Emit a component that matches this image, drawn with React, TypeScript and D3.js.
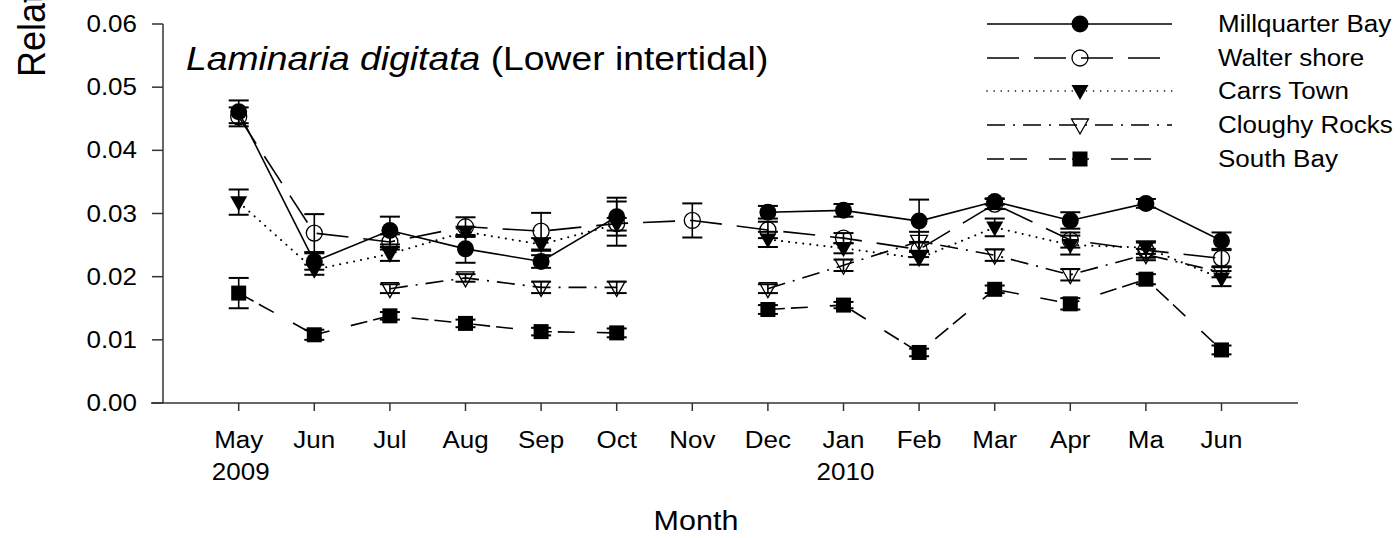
import React from "react";
import * as d3 from "d3";

const months = ["May", "Jun", "Jul", "Aug", "Sep", "Oct", "Nov", "Dec", "Jan", "Feb", "Mar", "Apr", "Ma", "Jun"];
const years = ["2009", "", "", "", "", "", "", "", "2010", "", "", "", "", ""];
const yTicks = [0, 0.01, 0.02, 0.03, 0.04, 0.05, 0.06];

const millquarter = [0.0461, 0.0224, 0.0273, 0.0244, 0.0224, 0.0295, null, 0.0302, 0.0305, 0.0288, 0.0319, 0.0289, 0.0316, 0.0257];
const millquarterErr = [0.0018, 0.0013, 0.0022, 0.0022, 0.001, 0.003, null, 0.001, 0.001, 0.0034, 0.0005, 0.0013, 0.0007, 0.0013];
const walter = [0.0453, 0.0269, 0.0255, 0.0279, 0.0272, 0.0284, 0.0289, 0.0274, 0.0261, 0.0243, 0.0315, 0.0258, 0.0242, 0.0229];
const walterErr = [0.0015, 0.003, 0.0012, 0.0015, 0.0029, 0.0035, 0.0027, 0.0013, 0.0008, 0.0012, 0.0008, 0.0012, 0.0012, 0.0013];
const carrs = [0.0318, 0.0211, 0.0236, 0.0271, 0.0251, 0.0283, null, 0.0259, 0.0245, 0.0229, 0.0278, 0.025, 0.0246, 0.0197];
const carrsErr = [0.002, 0.0008, 0.0011, 0.0008, 0.001, 0.001, null, 0.0012, 0.0008, 0.001, 0.0014, 0.0015, 0.001, 0.0012];
const cloughy = [null, null, 0.0181, 0.0198, 0.0183, 0.0183, null, 0.0181, 0.0218, 0.0256, 0.0234, 0.0203, 0.0235, 0.0207];
const cloughyErr = [null, null, 0.0007, 0.0006, 0.0009, 0.0009, null, 0.0007, 0.0009, 0.0015, 0.0009, 0.0009, 0.0009, 0.0008];
const southBay = [0.0174, 0.0108, 0.0138, 0.0126, 0.0113, 0.0111, null, 0.0148, 0.0155, 0.008, 0.018, 0.0157, 0.0196, 0.0084];
const southBayErr = [0.0024, 0.0008, 0.0006, 0.0006, 0.0006, 0.0007, null, 0.0007, 0.0005, 0.0006, 0.0006, 0.0009, 0.0008, 0.0007];

type Marker = "circleFilled" | "circleOpen" | "triFilled" | "triOpen" | "square";
const seriesDefs = [
  { name: "Millquarter Bay", values: millquarter, errs: millquarterErr, marker: "circleFilled" as Marker, dash: "" },
  { name: "Walter shore", values: walter, errs: walterErr, marker: "circleOpen" as Marker, dash: "32,15" },
  { name: "Carrs Town", values: carrs, errs: carrsErr, marker: "triFilled" as Marker, dash: "0.1,7" },
  { name: "Cloughy Rocks", values: cloughy, errs: cloughyErr, marker: "triOpen" as Marker, dash: "18,8,2,8" },
  { name: "South Bay", values: southBay, errs: southBayErr, marker: "square" as Marker, dash: "17,6,17,22" },
];

const FONT = "'Liberation Sans', Arial, sans-serif";
const SX = 1.13;

function MarkerShape({ type, x, y }: { type: Marker; x: number; y: number }) {
  const sw = 1.3;
  if (type === "circleFilled") return <circle cx={x} cy={y} r={8.5} fill="#000" />;
  if (type === "circleOpen") return <circle cx={x} cy={y} r={8} fill="none" stroke="#000" strokeWidth={sw} />;
  if (type === "square") return <rect x={x - 7.5} y={y - 7.5} width={15} height={15} fill="#000" />;
  const pts = `${x - 8.5},${y - 6} ${x + 8.5},${y - 6} ${x},${y + 9}`;
  if (type === "triFilled") return <polygon points={pts} fill="#000" />;
  return <polygon points={pts} fill="none" stroke="#000" strokeWidth={sw} strokeLinejoin="miter" />;
}

function T({ x, y, size, anchor = "start", italic = false, children }: any) {
  return (
    <text
      transform={`translate(${x},${y}) scale(${SX},1)`}
      fontFamily={FONT}
      fontSize={size}
      textAnchor={anchor}
      fontStyle={italic ? "italic" : "normal"}
      fill="#000"
    >
      {children}
    </text>
  );
}

export default function App() {
  const x = d3.scaleLinear().domain([0, months.length - 1]).range([238.7, 1221.5]);
  const y = d3.scaleLinear().domain([0, 0.06]).range([403, 24]);
  const axisColor = "#333";
  const isDot = (d: string) => d === "0.1,7";

  const lineGen = d3
    .line<number | null>()
    .defined((d) => d !== null)
    .x((_, i) => x(i))
    .y((d) => y(d as number));

  const drawOrder = [...seriesDefs].reverse();
  const legendRows = [24, 58, 91, 125, 159];

  return (
    <svg width={1400} height={538} style={{ position: "absolute", left: 0, top: 0, background: "#fff" }}>
      <rect width={1400} height={538} fill="#fff" />
      {/* Y axis label */}
      <text
        transform={`translate(45,77) scale(1.08,1) rotate(-90)`}
        fontFamily={FONT}
        fontSize={36}
        fill="#000"
      >
        Relative growth rate
      </text>
      {/* Axes */}
      <line x1={163} x2={163} y1={y(0.06)} y2={403} stroke={axisColor} strokeWidth={1.5} />
      <line x1={151} x2={1298} y1={403} y2={403} stroke={axisColor} strokeWidth={1.5} />
      {yTicks.map((t) => (
        <g key={t}>
          <line x1={152} x2={163} y1={y(t)} y2={y(t)} stroke={axisColor} strokeWidth={1.5} />
          <T x={137} y={y(t) + 8} size={23} anchor="end">
            {t.toFixed(2)}
          </T>
        </g>
      ))}
      {months.map((m, i) => (
        <g key={i}>
          <line x1={x(i)} x2={x(i)} y1={403} y2={411} stroke={axisColor} strokeWidth={1.5} />
          <T x={x(i)} y={448} size={23} anchor="middle">
            {m}
          </T>
          {years[i] && (
            <T x={x(i) + 2} y={480} size={23} anchor="middle">
              {years[i]}
            </T>
          )}
        </g>
      ))}
      <T x={696} y={530} size={27} anchor="middle">
        Month
      </T>
      {/* Title */}
      <text
        transform={`translate(186,70) scale(${SX},1)`}
        fontFamily={FONT}
        fontSize={33}
        fill="#000"
      >
        <tspan fontStyle="italic">Laminaria digitata</tspan>
        <tspan> (Lower intertidal)</tspan>
      </text>
      {/* Series */}
      {drawOrder.map((s) => (
        <g key={s.name}>
          <path
            d={lineGen(s.values) || ""}
            fill="none"
            stroke="#000"
            strokeWidth={isDot(s.dash) ? 2 : 1.6}
            strokeDasharray={s.dash || undefined}
            strokeLinecap={isDot(s.dash) ? "round" : "butt"}
          />
          {s.values.map((v, i) => {
            const e = s.errs[i];
            if (v === null || e === null) return null;
            const xi = x(i);
            return (
              <g key={i}>
                <line x1={xi} x2={xi} y1={y(v + e)} y2={y(v - e)} stroke="#000" strokeWidth={1.6} />
                <line x1={xi - 10} x2={xi + 10} y1={y(v + e)} y2={y(v + e)} stroke="#000" strokeWidth={2} />
                <line x1={xi - 10} x2={xi + 10} y1={y(v - e)} y2={y(v - e)} stroke="#000" strokeWidth={2} />
                <MarkerShape type={s.marker} x={xi} y={y(v)} />
              </g>
            );
          })}
        </g>
      ))}
      {/* Legend */}
      {seriesDefs.map((s, k) => {
        const ly = legendRows[k];
        return (
          <g key={s.name}>
            <line
              x1={987}
              x2={1172}
              y1={ly}
              y2={ly}
              stroke="#000"
              strokeWidth={isDot(s.dash) ? 1.6 : 1.5}
              strokeDasharray={s.dash || undefined}
              strokeLinecap={isDot(s.dash) ? "round" : "butt"}
            />
            <MarkerShape type={s.marker} x={1080} y={ly} />
            <T x={1218} y={ly + 8} size={23}>
              {s.name}
            </T>
          </g>
        );
      })}
    </svg>
  );
}
